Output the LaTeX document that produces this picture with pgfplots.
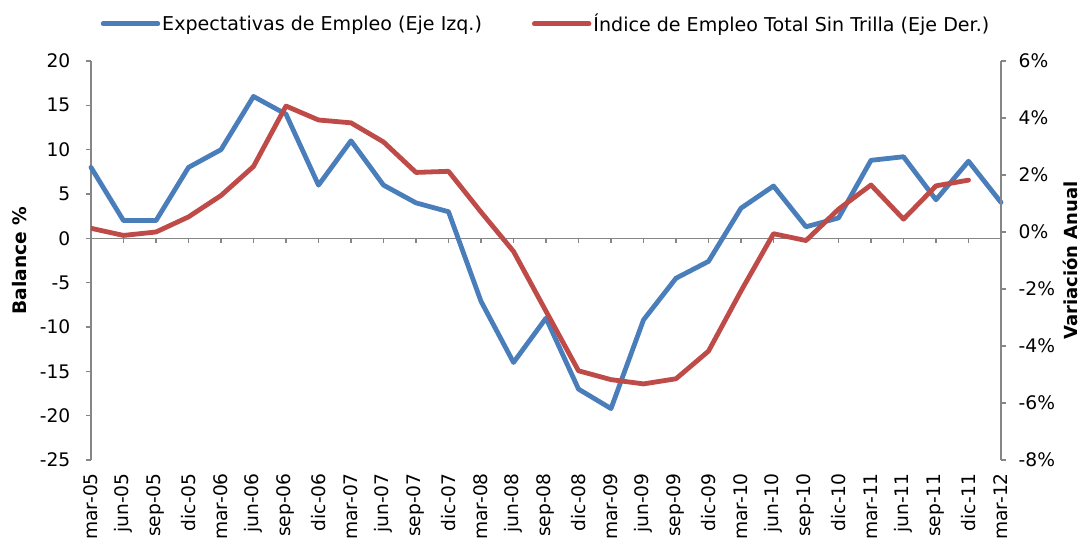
\documentclass[border=0pt]{standalone}
\usepackage{fontspec}
\setmainfont{DejaVu Sans}
\usepackage{pgfplots}
\pgfplotsset{compat=1.18}
\definecolor{eblue}{HTML}{4A7EBB}
\definecolor{ered}{HTML}{BE4B48}
\definecolor{axgray}{HTML}{868686}

\pgfplotstableread{
x v
0 8
1 2
2 2
3 8
4 10
5 16
6 14
7 6
8 11
9 6
10 4
11 3
12 -7.1
13 -14.0
14 -9.0
15 -17.0
16 -19.2
17 -9.2
18 -4.5
19 -2.6
20 3.4
21 5.9
22 1.3
23 2.3
24 8.8
25 9.2
26 4.35
27 8.7
28 4.05
}\expect

\pgfplotstableread{
x v
0 0.13
1 -0.12
2 0.0
3 0.53
4 1.28
5 2.3
6 4.42
7 3.93
8 3.83
9 3.16
10 2.09
11 2.13
12 0.7
13 -0.68
14 -2.78
15 -4.87
16 -5.18
17 -5.33
18 -5.15
19 -4.18
20 -2.07
21 -0.06
22 -0.3
23 0.8
24 1.65
25 0.45
26 1.62
27 1.82
}\indice

\begin{document}
\begin{tikzpicture}[x=1pt,y=1pt]
\useasboundingbox (-68.25,-60.75) rectangle (745.5,345);
\begin{axis}[
  at={(0,0)}, anchor=south west,
  scale only axis, width=682.5pt, height=299.25pt,
  clip=false,
  xmin=0, xmax=28, ymin=-25, ymax=20,
  ytick={-25,-20,...,20},
  xtick={0,...,28},
  xticklabels={mar-05,jun-05,sep-05,dic-05,mar-06,jun-06,sep-06,dic-06,mar-07,jun-07,sep-07,dic-07,mar-08,jun-08,sep-08,dic-08,mar-09,jun-09,sep-09,dic-09,mar-10,jun-10,sep-10,dic-10,mar-11,jun-11,sep-11,dic-11,mar-12},
  axis x line*=bottom, axis y line*=left,
  x axis line style={draw=none},
  major x tick style={draw=none},
  axis line style={axgray, line width=0.9pt},
  major y tick style={axgray, line width=0.9pt},
  tick align=outside, major tick length=3.75pt,
  /pgf/number format/assume math mode=true,
  ticklabel style={font=\fontsize{14}{16}\selectfont, text=black},
  xticklabel style={rotate=90, anchor=east, inner sep=1pt},
  xticklabel shift=5pt,
  yticklabel style={xshift=-8.25pt},
  ylabel={Balance \%},
  ylabel style={font=\bfseries\fontsize{14}{16}\selectfont, at={(axis description cs:-0.078,0.5)}, anchor=center},
]
\draw[axgray, line width=0.9pt] (axis cs:0,0) -- (axis cs:28,0);
\pgfplotsinvokeforeach{0,...,28}{\draw[axgray, line width=0.9pt] (axis cs:#1,0) -- ++(0pt,-3.75pt);}
\addplot[eblue, line width=3.6pt, line join=round, line cap=round] table[x=x,y=v]{\expect};
\end{axis}
\begin{axis}[
  at={(0,0)}, anchor=south west,
  scale only axis, width=682.5pt, height=299.25pt,
  xmin=0, xmax=28, ymin=-8, ymax=6,
  ytick={-8,-6,...,6},
  axis x line=none, axis y line*=right,
  axis line style={axgray, line width=0.9pt},
  major y tick style={axgray, line width=0.9pt},
  tick align=outside, major tick length=3.75pt,
  /pgf/number format/assume math mode=true,
  yticklabel={\pgfmathprintnumber{\tick}\%},
  ticklabel style={font=\fontsize{14}{16}\selectfont, text=black},
  yticklabel style={xshift=6pt},
  ylabel={Variación Anual},
  ylabel style={font=\bfseries\fontsize{13.5}{15}\selectfont, at={(axis description cs:1.076,0.5)}, anchor=center},
  legend columns=2,
  legend style={draw=none, fill=none, at={(0.5,1.093)}, anchor=center,
    nodes={inner sep=1.5pt},
    font=\fontsize{14.3}{16}\selectfont, /tikz/every even column/.append style={column sep=36pt}},
  legend cell align=left,
  legend image code/.code={\draw[#1] (0pt,0pt) -- (41pt,0pt);},
]
\addlegendimage{eblue, line width=3.6pt, line cap=round}
\addlegendentry{Expectativas de Empleo (Eje Izq.)}
\addplot[ered, line width=3.6pt, line join=round, line cap=round] table[x=x,y=v]{\indice};
\addlegendentry{Índice de Empleo Total Sin Trilla (Eje Der.)}
\end{axis}
\end{tikzpicture}
\end{document}
